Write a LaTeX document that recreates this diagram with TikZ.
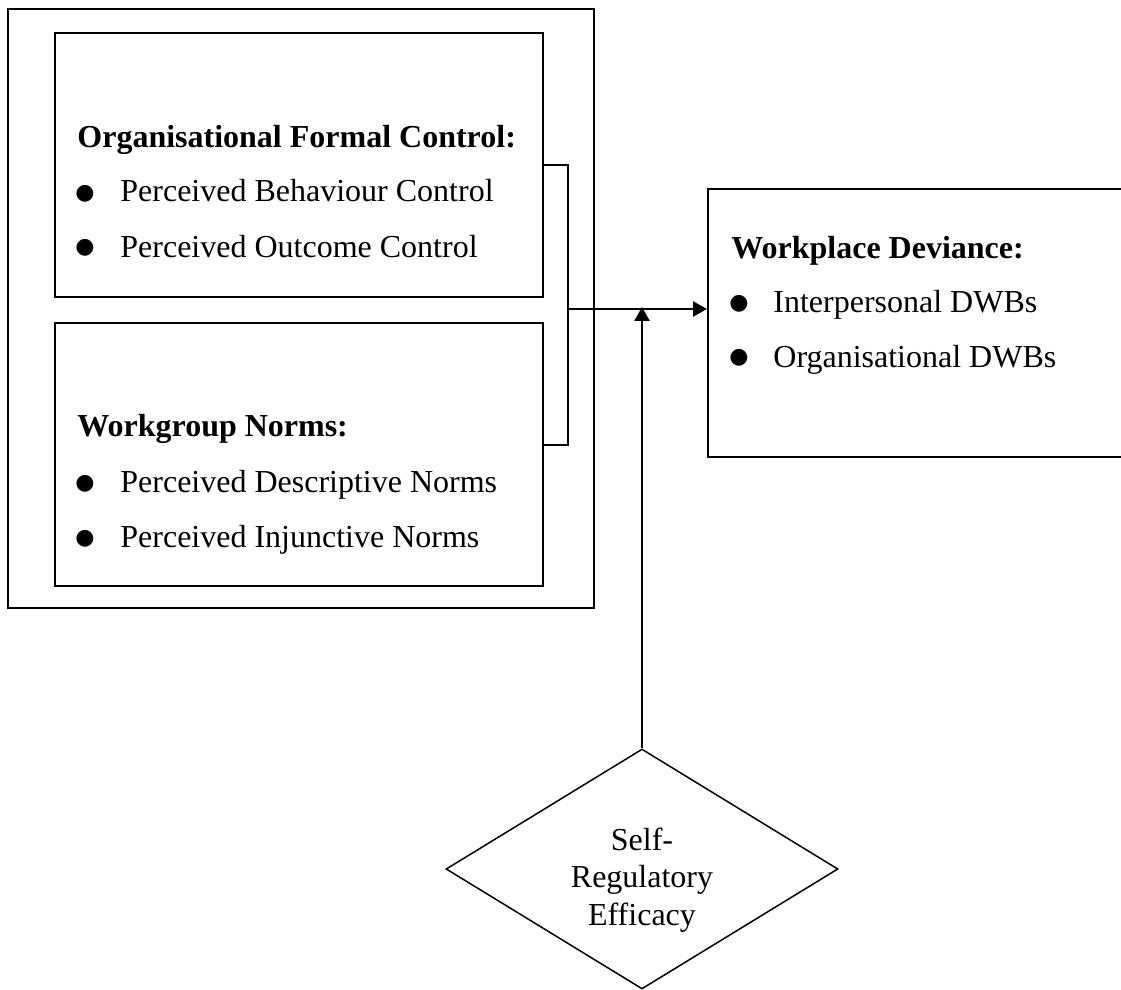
\documentclass[tikz,border=0pt]{standalone}
\usepackage{fontspec}
\setmainfont{Liberation Serif}
\newfontfamily\symfont{DejaVu Sans}
\usetikzlibrary{shapes.geometric,arrows.meta}

\tikzset{
  frame/.style={rectangle, draw=black, line width=1pt, inner sep=0pt},
  head/.style={anchor=base west, inner sep=0pt, font=\fontsize{16}{19}\selectfont\bfseries},
  itemtxt/.style={anchor=base west, inner sep=0pt, font=\fontsize{16}{19}\selectfont},
  dot/.style={anchor=base, inner sep=0pt, yshift=1.5pt, font=\symfont\fontsize{11}{11}\selectfont},
  link/.style={line width=1.3pt},
  arrow/.style={link, -{Triangle[length=7pt,width=7.5pt]}},
}

\begin{document}
\begin{tikzpicture}[x=0.5pt,y=-0.5pt]
\useasboundingbox (0,0) rectangle (1121,990);

% antecedents
\node[frame, minimum width=293pt, minimum height=299.5pt](grp) at (301,308.5) {};
\node[frame, minimum width=244pt, minimum height=132pt](ofc) at (299,165) {};
\node[frame, minimum width=244pt, minimum height=131.5pt](wgn) at (299,454.5) {};

\node[head](ofchead) at (77,148) {Organisational Formal Control:};
\node[dot](ofcdot1) at (85,202) {●};
\node[itemtxt](pbc) at (120,202) {Perceived Behaviour Control};
\node[dot](ofcdot2) at (85,257) {●};
\node[itemtxt](poc) at (120,257) {Perceived Outcome Control};

\node[head](wgnhead) at (77,437) {Workgroup Norms:};
\node[dot](wgndot1) at (85,492) {●};
\node[itemtxt](pdn) at (120,492) {Perceived Descriptive Norms};
\node[dot](wgndot2) at (85,547) {●};
\node[itemtxt](pin) at (120,547) {Perceived Injunctive Norms};

% outcome
\node[frame, minimum width=226pt, minimum height=134pt](wd) at (934,323) {};
\node[head](wdhead) at (731,258) {Workplace Deviance:};
\node[dot](wddot1) at (739,313) {●};
\node[itemtxt](idwb) at (773,313) {Interpersonal DWBs};
\node[dot](wddot2) at (739,367) {●};
\node[itemtxt](odwb) at (773,367) {Organisational DWBs};

% moderator
\node[diamond, draw=black, line width=0.75pt, inner sep=0pt, minimum width=196pt,
      minimum height=120pt,
      label={[align=center, yshift=-5.5pt, font=\fontsize{16}{18.75}\selectfont]center:Self-\\Regulatory\\Efficacy}](sre)
      at (642,869) {};

\coordinate (jn) at (568,309);
\draw[link] (ofc.east) -| (jn) |- ([yshift=4.75pt]wgn.east);
\draw[arrow] (jn) -- (jn -| wd.west);
\draw[arrow, shorten >=-1pt] (sre.north) -- (sre.north |- jn);
\end{tikzpicture}
\end{document}
